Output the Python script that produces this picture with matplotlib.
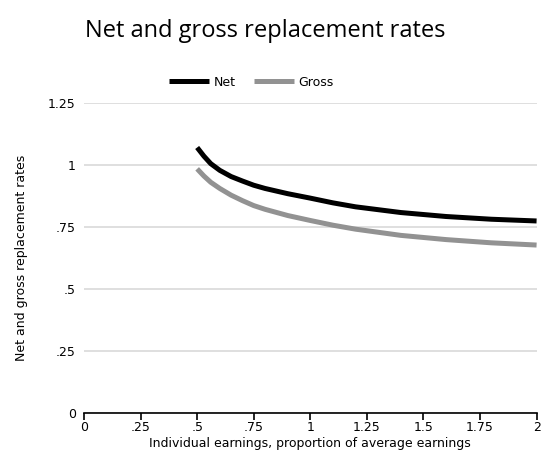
import matplotlib.pyplot as plt
from matplotlib.ticker import FuncFormatter

# earnings as a proportion of average earnings
earnings = [0.5, 0.53, 0.56, 0.6, 0.65, 0.7, 0.75, 0.8, 0.9, 1.0, 1.1, 1.2, 1.4, 1.6, 1.8, 2.0]
# replacement rates
net = [1.07, 1.035, 1.005, 0.978, 0.953, 0.935, 0.918, 0.905, 0.884, 0.866, 0.847, 0.831,
       0.808, 0.792, 0.781, 0.774]
gross = [0.984, 0.955, 0.93, 0.905, 0.878, 0.856, 0.836, 0.821, 0.796, 0.776, 0.757, 0.741,
         0.716, 0.699, 0.686, 0.677]

xticks = [0, 0.25, 0.5, 0.75, 1, 1.25, 1.5, 1.75, 2]
yticks = [0, 0.25, 0.5, 0.75, 1, 1.25]


def shortLabel(v, pos=None):
    # Stata style labels: ".25" not "0.25"
    if v == int(v):
        return str(int(v))
    s = ('%g' % v)
    if s.startswith('0.'):
        s = s[1:]
    return s


fig = plt.figure(figsize=(5.42, 4.59), dpi=100)
ax = fig.add_axes([0.155, 0.1, 0.835, 0.676])

ax.plot(earnings, net, color='black', lw=3.6, label='Net', solid_capstyle='butt')
ax.plot(earnings, gross, color='#929292', lw=3.6, label='Gross', solid_capstyle='butt')

ax.set_xlim(0, 2)
ax.set_ylim(0, 1.25)
ax.set_xticks(xticks)
ax.set_yticks(yticks)
ax.xaxis.set_major_formatter(FuncFormatter(shortLabel))
ax.yaxis.set_major_formatter(FuncFormatter(shortLabel))

ax.grid(axis='y', color='#d9d9d9', lw=1.2)
ax.set_axisbelow(True)
for side in ['top', 'right', 'left']:
    ax.spines[side].set_visible(False)
ax.spines['bottom'].set_linewidth(1.2)
ax.tick_params(axis='x', direction='out', length=5, width=1.2, labelsize=9, pad=1)
ax.tick_params(axis='y', length=0, labelsize=9, pad=6)

ax.set_xlabel('Individual earnings, proportion of average earnings', fontsize=9, labelpad=2)
ax.set_ylabel('Net and gross replacement rates', fontsize=9, labelpad=14)

ax.legend(loc='lower center', bbox_to_anchor=(0.37, 1.03), ncol=2, frameon=False,
          fontsize=9, handlelength=3.2, columnspacing=1.4, handletextpad=0.4,
          borderaxespad=0)

fig.text(0.49, 0.932, 'Net and gross replacement rates', ha='center', va='center',
         fontsize=17, family='Open Sans')

fig.savefig('out.png', dpi=100)
